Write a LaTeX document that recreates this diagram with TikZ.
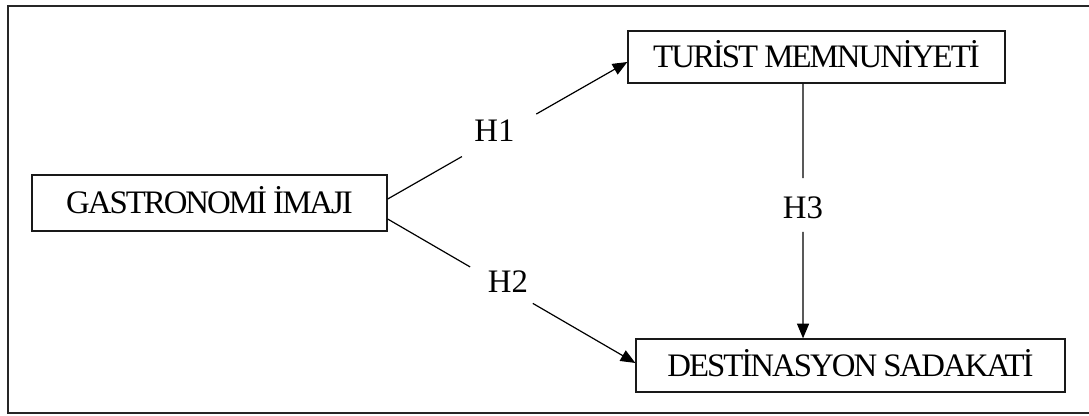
\documentclass[tikz,border=0pt]{standalone}
\usepackage{fontspec}
\setmainfont{Liberation Serif}
\newfontfamily\boxfont[LetterSpace=-6]{Liberation Serif}
\usetikzlibrary{arrows.meta,calc}
\begin{document}
\begin{tikzpicture}[x=0.75pt,y=-0.75pt,
  construct/.style={draw=black!90,line width=1pt,inner sep=0pt,
    font=\boxfont\fontsize{24.6}{28}\selectfont,text height=16.3pt,text depth=0pt},
  hyp/.style={font=\fontsize{24.6}{28}\selectfont,inner sep=0pt,text height=16.3pt,text depth=0pt},
  link/.style={line width=0.9pt,black},
  tip/.style={link,-{Triangle[length=11pt,width=9pt]}}]
\useasboundingbox (0,0) rectangle (1089,415);
% outer frame, open on the right
\draw[line width=1.5pt,black!85] (1100,6) -- (8,6) -- (8,413) -- (1100,413);

% constructs
\node[construct,minimum width=355*0.75pt,minimum height=56*0.75pt] (G) at (209.5,203) {GASTRONOMİ İMAJI};
\node[construct,minimum width=377*0.75pt,minimum height=52*0.75pt] (T) at (816.5,57) {TURİST MEMNUNİYETİ};
\node[construct,minimum width=429*0.75pt,minimum height=53*0.75pt] (D) at (850.5,365.5) {DESTİNASYON SADAKATİ};

% path end points
\coordinate (h1a) at ([yshift=3pt]G.east);
\coordinate (h1b) at ([yshift=-3.75pt]T.west);
\coordinate (h2a) at ([yshift=-12pt]G.east);
\coordinate (h2b) at ([yshift=1.9pt]D.west);
\coordinate (h3a) at ([xshift=-10.1pt]T.south);
\coordinate (h3b) at (h3a |- D.north);

% hypothesis labels
\node[hyp] (H1) at (494.5,131) {H1};
\node[hyp] (H2) at (508,282) {H2};
\node[hyp] (H3) at (803,207.5) {H3};

% H1: gastronomy image -> tourist satisfaction
\draw[link] (h1a) -- ($(h1a)!0.31!(h1b)$);
\draw[tip] ($(h1a)!0.62!(h1b)$) -- (h1b);
% H2: gastronomy image -> destination loyalty
\draw[link] (h2a) -- ($(h2a)!0.333!(h2b)$);
\draw[tip] ($(h2a)!0.586!(h2b)$) -- (h2b);
% H3: tourist satisfaction -> destination loyalty
\draw[link] (h3a) -- ($(h3a)!0.371!(h3b)$);
\draw[tip] ($(h3a)!0.582!(h3b)$) -- (h3b);
\end{tikzpicture}
\end{document}
